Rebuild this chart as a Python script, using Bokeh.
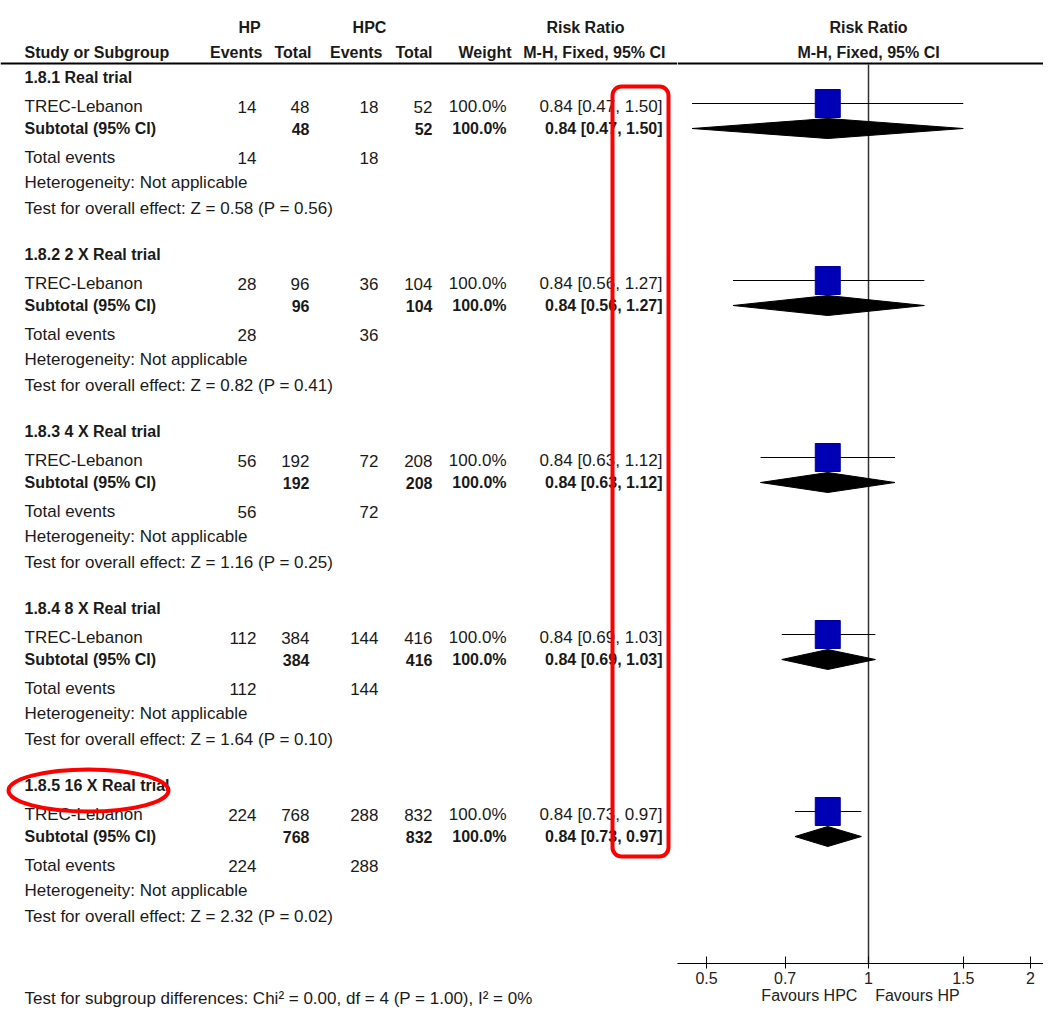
import math
from bokeh.plotting import figure
from bokeh.models import ColumnDataSource, Range1d, FixedTicker, CustomJSTickFormatter, Span
from bokeh.layouts import row
from bokeh.embed import file_html
from bokeh.resources import INLINE
from bokeh.core.properties import value

# ---------------- data ----------------
subgroups = ["1.8.1 Real trial", "1.8.2 2 X Real trial", "1.8.3 4 X Real trial",
             "1.8.4 8 X Real trial", "1.8.5 16 X Real trial"]
study = "TREC-Lebanon"
hp_events = [14, 28, 56, 112, 224]
hp_total = [48, 96, 192, 384, 768]
hpc_events = [18, 36, 72, 144, 288]
hpc_total = [52, 104, 208, 416, 832]
weight = [100.0, 100.0, 100.0, 100.0, 100.0]
rr = [0.84, 0.84, 0.84, 0.84, 0.84]
ci_lo = [0.47, 0.56, 0.63, 0.69, 0.73]
ci_hi = [1.50, 1.27, 1.12, 1.03, 0.97]
z_vals = [0.58, 0.82, 1.16, 1.64, 2.32]
p_vals = [0.56, 0.41, 0.25, 0.10, 0.02]
axis_ticks = [0.5, 0.7, 1, 1.5, 2]
subgroup_test = "Test for subgroup differences: Chi\u00b2 = 0.00, df = 4 (P = 1.00), I\u00b2 = 0%"

# ---------------- layout (pixels) ----------------
FONT = "Liberation Sans"
REG = "17px"
BOLD = "16px"
TXT = "#1a1a1a"
LEFT_W = 677
RIGHT_W = 366
H = 1008
PLOT_BOTTOM = 963          # y of forest axis
SEC0, SEC_STEP = 77, 177
OFF_STUDY, OFF_SUB, OFF_TOT, OFF_HET, OFF_TEST = 29, 51, 80, 105, 131
# log-scale calibration of forest panel
X_ONE, PX_PER_LN = 868, 233.7
rr_min = math.exp((LEFT_W - X_ONE) / PX_PER_LN)
rr_max = math.exp((LEFT_W + RIGHT_W - X_ONE) / PX_PER_LN)

col_text = 24
col_right = dict(hp_ev=256, hp_tot=309, hpc_ev=378, hpc_tot=432, weight=506, rr=662)
hdr_right = dict(hp_ev=262, hp_tot=311, hpc_ev=382, hpc_tot=432, weight=511, rr=665)

# ---------------- left table figure ----------------
left = figure(frame_width=LEFT_W, frame_height=H, x_range=Range1d(0, LEFT_W),
              y_range=Range1d(H, 0), output_backend="svg", toolbar_location=None,
              x_axis_location=None, y_axis_location=None, min_border=0,
              outline_line_color=None, background_fill_color="white")
left.xgrid.visible = False
left.ygrid.visible = False

reg_left = dict(x=[], y=[], t=[])
bold_left = dict(x=[], y=[], t=[])
reg_right = dict(x=[], y=[], t=[])
bold_right = dict(x=[], y=[], t=[])
bold_center = dict(x=[], y=[], t=[])

def add(d, x, y, t):
    d["x"].append(x); d["y"].append(y); d["t"].append(t)

# headers
add(bold_center, 249, 27, "HP")
add(bold_center, 369, 27, "HPC")
add(bold_center, 585, 27, "Risk Ratio")
add(bold_left, col_text, 52, "Study or Subgroup")
for key, lab in [("hp_ev", "Events"), ("hp_tot", "Total"), ("hpc_ev", "Events"),
                 ("hpc_tot", "Total"), ("weight", "Weight"), ("rr", "M-H, Fixed, 95% CI")]:
    add(bold_right, hdr_right[key], 52, lab)

study_y, sub_y = [], []
for k in range(len(subgroups)):
    s = SEC0 + SEC_STEP * k
    ys, yb = s + OFF_STUDY, s + OFF_SUB
    study_y.append(ys); sub_y.append(yb)
    rr_txt = f"{rr[k]:.2f} [{ci_lo[k]:.2f}, {ci_hi[k]:.2f}]"
    add(bold_left, col_text, s, subgroups[k])
    add(reg_left, col_text, ys, study)
    add(reg_right, col_right["hp_ev"], ys, str(hp_events[k]))
    add(reg_right, col_right["hp_tot"], ys, str(hp_total[k]))
    add(reg_right, col_right["hpc_ev"], ys, str(hpc_events[k]))
    add(reg_right, col_right["hpc_tot"], ys, str(hpc_total[k]))
    add(reg_right, col_right["weight"], ys, f"{weight[k]:.1f}%")
    add(reg_right, col_right["rr"], ys, rr_txt)
    add(bold_left, col_text, yb, "Subtotal (95% CI)")
    add(bold_right, col_right["hp_tot"], yb, str(hp_total[k]))
    add(bold_right, col_right["hpc_tot"], yb, str(hpc_total[k]))
    add(bold_right, col_right["weight"], yb, f"{weight[k]:.1f}%")
    add(bold_right, col_right["rr"], yb, rr_txt)
    add(reg_left, col_text, s + OFF_TOT, "Total events")
    add(reg_right, col_right["hp_ev"], s + OFF_TOT, str(hp_events[k]))
    add(reg_right, col_right["hpc_ev"], s + OFF_TOT, str(hpc_events[k]))
    add(reg_left, col_text, s + OFF_HET, "Heterogeneity: Not applicable")
    add(reg_left, col_text, s + OFF_TEST,
        f"Test for overall effect: Z = {z_vals[k]:.2f} (P = {p_vals[k]:.2f})")

add(reg_left, col_text, 998, subgroup_test)

for d, style, size, align in [(reg_left, "normal", REG, "left"), (bold_left, "bold", BOLD, "left"),
                              (reg_right, "normal", REG, "right"), (bold_right, "bold", BOLD, "right"),
                              (bold_center, "bold", BOLD, "center")]:
    left.text(x="x", y="y", text="t", source=ColumnDataSource(d), text_font=value(FONT),
              text_font_size=size, text_font_style=style, text_align=align,
              text_baseline="middle", text_color=TXT)

left.add_layout(Span(location=63, dimension="width", line_color="black", line_width=2))

# red annotations
left.quad(left=612, right=668, top=86, bottom=856, fill_color=None, line_color="#ff0000",
          line_width=4, border_radius=9)
left.ellipse(x=88, y=790, width=160, height=42, fill_color=None, line_color="#ff0000", line_width=4)

# ---------------- right forest figure ----------------
right = figure(frame_width=RIGHT_W, frame_height=PLOT_BOTTOM, x_axis_type="log",
               x_range=Range1d(rr_min, rr_max), y_range=Range1d(PLOT_BOTTOM, 0),
               output_backend="svg", toolbar_location=None, y_axis_location=None,
               min_border_left=0, min_border_right=0, min_border_top=0,
               min_border_bottom=H - PLOT_BOTTOM,
               outline_line_color=None, background_fill_color="white")
right.xgrid.visible = False
right.ygrid.visible = False

ax = right.xaxis[0]
ax.ticker = FixedTicker(ticks=axis_ticks)
ax.formatter = CustomJSTickFormatter(code="return String(tick);")
ax.minor_tick_line_color = None
ax.major_tick_in = 7
ax.major_tick_out = 5
ax.axis_line_color = "black"
ax.major_tick_line_color = "black"
ax.major_label_text_font = FONT
ax.major_label_text_font_size = "16px"
ax.major_label_text_color = "#222222"
ax.major_label_standoff = 3
ax.axis_label = "Favours HPC\u00a0\u00a0\u00a0\u00a0Favours HP"
ax.axis_label_text_font = FONT
ax.axis_label_text_font_size = "16px"
ax.axis_label_text_font_style = "normal"
ax.axis_label_text_color = "#222222"
ax.axis_label_standoff = 0

right.add_layout(Span(location=63, dimension="width", line_color="black", line_width=2))
right.segment(x0=[1], y0=[64], x1=[1], y1=[PLOT_BOTTOM], line_color="#333333", line_width=1.5)

hdr = ColumnDataSource(dict(x=[1, 1], y=[27, 52], t=["Risk Ratio", "M-H, Fixed, 95% CI"]))
right.text(x="x", y="y", text="t", source=hdr, text_font=value(FONT), text_font_size=BOLD,
           text_font_style="bold", text_align="center", text_baseline="middle", text_color=TXT)

ci_y = [y - 3 for y in study_y]
right.segment(x0=ci_lo, y0=ci_y, x1=ci_hi, y1=ci_y, line_color="black", line_width=1.2)
right.rect(x=rr, y=ci_y, width=25, height=28, width_units="screen",
           fill_color="#0000b4", line_color="#0000a0")
d_xs = [[lo, m, hi, m] for lo, m, hi in zip(ci_lo, rr, ci_hi)]
d_ys = [[y, y - 10, y, y + 10] for y in sub_y]
right.patches(xs=d_xs, ys=d_ys, fill_color="black", line_color="black", line_width=1)

layout = row(left, right, spacing=0)
open("out.html", "w").write(file_html(layout, INLINE))
